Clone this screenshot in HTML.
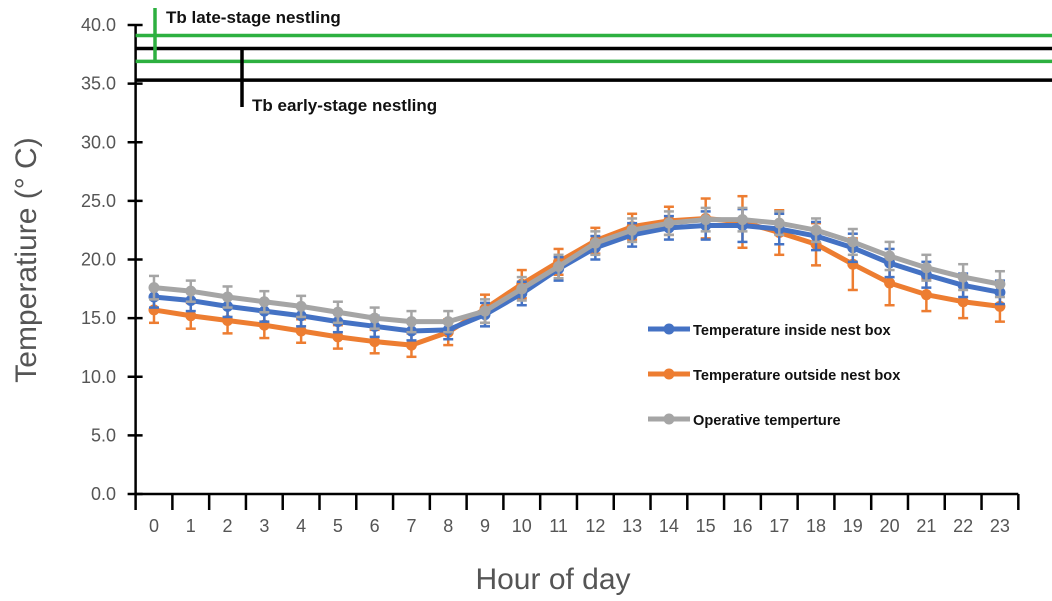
<!DOCTYPE html>
<html><head><meta charset="utf-8"><style>
body{margin:0;background:#fff;}
svg{display:block;font-family:"Liberation Sans",sans-serif;}
</style></head><body>
<svg id="chart" width="1052" height="601" viewBox="0 0 1052 601"></svg>
<script>
const hours=[0,1,2,3,4,5,6,7,8,9,10,11,12,13,14,15,16,17,18,19,20,21,22,23];
const inside=[16.8,16.5,16.0,15.6,15.2,14.7,14.3,13.9,14.0,15.3,17.1,19.2,21.0,22.1,22.7,22.9,22.9,22.6,22.0,21.0,19.7,18.7,17.8,17.2];
const insideErr=[0.9,0.9,0.9,0.9,0.9,0.9,0.9,0.8,0.8,1.0,1.0,1.0,1.0,1.0,1.0,1.2,1.4,1.3,1.2,1.2,1.2,1.1,1.0,1.0];
const outside=[15.7,15.2,14.8,14.4,13.9,13.4,13.0,12.7,13.8,15.8,17.9,19.8,21.6,22.8,23.3,23.5,23.2,22.3,21.3,19.6,18.0,17.0,16.4,16.0];
const outsideErr=[1.1,1.1,1.1,1.1,1.0,1.0,1.0,1.0,1.1,1.2,1.2,1.1,1.1,1.1,1.2,1.7,2.2,1.9,1.8,2.2,1.9,1.4,1.4,1.3];
const operative=[17.6,17.3,16.8,16.4,16.0,15.5,15.0,14.7,14.7,15.6,17.5,19.4,21.4,22.5,23.1,23.4,23.4,23.1,22.5,21.5,20.3,19.3,18.5,17.9];
const operativeErr=[1.0,0.9,0.9,0.9,0.9,0.9,0.9,0.9,0.9,1.0,1.0,1.0,1.0,1.0,1.0,1.0,1.0,1.0,1.0,1.1,1.2,1.1,1.1,1.1];
const yTicks=[0,5,10,15,20,25,30,35,40];
const refLines=[{v:39.1,c:"#2db040"},{v:36.9,c:"#2db040"},{v:38.0,c:"#000"},{v:35.3,c:"#000"}];

const svg=document.getElementById('chart');
const NS="http://www.w3.org/2000/svg";
const X0=135.6,STEP=36.78,Y0=494,YTOP=25;
const x=h=>X0+STEP*(h+0.5);
const y=v=>Y0-(Y0-YTOP)*v/40;
function mk(t,a,p){const e=document.createElementNS(NS,t);for(const k in a)e.setAttribute(k,a[k]);(p||svg).appendChild(e);return e;}

const yax=mk('line',{x1:X0,y1:y(40),x2:X0,y2:Y0,stroke:'#000','stroke-width':2.5});


yTicks.forEach(v=>{
  mk('line',{x1:X0-8,x2:X0+7,y1:y(v),y2:y(v),stroke:'#000','stroke-width':2.5});
  const t=mk('text',{x:116,y:y(v)+6,'text-anchor':'end','font-size':18,fill:'#555'});
  t.textContent=v.toFixed(1);
  
  
});
const xax=mk('line',{x1:X0,y1:Y0,x2:X0+STEP*24,y2:Y0,stroke:'#000','stroke-width':2.5});


for(let i=0;i<=24;i++)mk('line',{x1:X0+STEP*i,x2:X0+STEP*i,y1:Y0,y2:Y0+16,stroke:'#000','stroke-width':2.5});
hours.forEach(h=>{
  const t=mk('text',{x:x(h),y:532,'text-anchor':'middle','font-size':18,fill:'#555'});
  t.textContent=h;
  
  
});
const yt=mk('text',{x:0,y:0,transform:'translate(36,260) rotate(-90)','text-anchor':'middle','font-size':30,fill:'#555'});
yt.textContent='Temperatiure (° C)';


const xt=mk('text',{x:553,y:589,'text-anchor':'middle','font-size':30,fill:'#555'});
xt.textContent='Hour of day';



refLines.forEach(r=>{
  const l=mk('line',{x1:X0,x2:1052,y1:y(r.v),y2:y(r.v),stroke:r.c,'stroke-width':3.5});
  
  
});
mk('line',{x1:155,x2:155,y1:8,y2:y(36.9),stroke:'#2db040','stroke-width':3.5});
mk('line',{x1:242,x2:242,y1:y(38),y2:107,stroke:'#000','stroke-width':3.5});
const l1=mk('text',{x:166,y:23,'font-size':17,'font-weight':'bold',fill:'#111'});
l1.textContent='Tb late-stage nestling';


const l2=mk('text',{x:252,y:111,'font-size':17,'font-weight':'bold',fill:'#111'});
l2.textContent='Tb early-stage nestling';



const series=[
 {d:outside,e:outsideErr,c:'#ed7d31',n:'series-outside'},
 {d:inside,e:insideErr,c:'#4472c4',n:'series-inside'},
 {d:operative,e:operativeErr,c:'#a5a5a5',n:'series-operative'}
];
series.forEach(s=>{
  const g=mk('g',{});
  
  
  s.d.forEach((v,i)=>{
    const h=hours[i],e=s.e[i];
    mk('line',{x1:x(h),x2:x(h),y1:y(v-e),y2:y(v+e),stroke:s.c,'stroke-width':2.5},g);
    mk('line',{x1:x(h)-5,x2:x(h)+5,y1:y(v-e),y2:y(v-e),stroke:s.c,'stroke-width':2.5},g);
    mk('line',{x1:x(h)-5,x2:x(h)+5,y1:y(v+e),y2:y(v+e),stroke:s.c,'stroke-width':2.5},g);
  });
  mk('polyline',{points:s.d.map((v,i)=>x(hours[i])+','+y(v)).join(' '),fill:'none',stroke:s.c,'stroke-width':5,'stroke-linejoin':'round'},g);
  s.d.forEach((v,i)=>{
    const c=mk('circle',{cx:x(hours[i]),cy:y(v),r:5.5,fill:s.c},g);
    
    
  });
});

const leg=[['#4472c4','Temperature inside nest box',329],['#ed7d31','Temperature outside nest box',374],['#a5a5a5','Operative temperture',419]];
leg.forEach(L=>{
  const g=mk('g',{});
  
  
  mk('line',{x1:648,x2:690,y1:L[2],y2:L[2],stroke:L[0],'stroke-width':5},g);
  mk('circle',{cx:669,cy:L[2],r:5.5,fill:L[0]},g);
  const t=mk('text',{x:693,y:L[2]+6,'font-size':14.6,'font-weight':'bold',fill:'#111'},g);
  t.textContent=L[1];
});
</script>
</body></html>
